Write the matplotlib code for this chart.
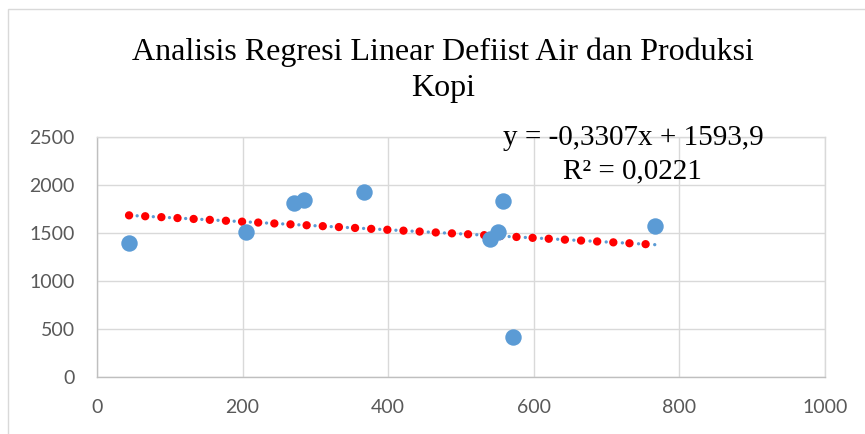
import numpy as np
import matplotlib
matplotlib.use("Agg")
import matplotlib.pyplot as plt
from matplotlib.patches import Rectangle

# data
defisit_air = [44, 205, 271, 284, 367, 540, 551, 558, 572, 767]
produksi_kopi = [1400, 1510, 1812, 1844, 1930, 1440, 1510, 1833, 417, 1570]
equation_text = "y = -0,3307x + 1593,9"
r2_text = "R² = 0,0221"
title = "Analisis Regresi Linear Defiist Air dan Produksi\nKopi"
x_ticks = [0, 200, 400, 600, 800, 1000]
y_ticks = [0, 500, 1000, 1500, 2000, 2500]

fig = plt.figure(figsize=(8.65, 4.34), dpi=100)
ax = fig.add_axes([97 / 865, 1 - 377 / 434, 728 / 865, 240 / 434])

# outer chart frame (cut off on the right and bottom)
fig.patches.append(Rectangle((8 / 865, -0.1), 1.2, 1 - 9 / 434 + 0.1,
                             transform=fig.transFigure, fill=False,
                             edgecolor="#D9D9D9", lw=1.0))

# trendline from least squares fit
slope, icpt = np.polyfit(defisit_air, produksi_kopi, 1)
tx = np.array([min(defisit_air), max(defisit_air)])
ty = slope * tx + icpt
ax.plot(tx, ty, color="#5B9BD5", lw=2.4, linestyle=(0, (0.01, 2.42)),
        dash_capstyle="round", zorder=2)
ax.plot(tx, ty, color="#FF0000", lw=6.0, linestyle=(0, (0.01, 1.93)),
        dash_capstyle="round", zorder=3)

ax.scatter(defisit_air, produksi_kopi, s=140, color="#5B9BD5", zorder=4,
           linewidths=0)

ax.set_xlim(0, 1000)
ax.set_ylim(0, 2500)
ax.set_xticks(x_ticks)
ax.set_yticks(y_ticks)
ax.grid(True, color="#D9D9D9", lw=1.0)
ax.set_axisbelow(True)
for s in ax.spines.values():
    s.set_color("#D9D9D9")
    s.set_linewidth(1.0)
ax.spines["left"].set_color("#BFBFBF")
ax.spines["bottom"].set_color("#BFBFBF")
ax.tick_params(length=0, labelsize=14, labelcolor="#595959", pad=16)
for lab in ax.get_xticklabels() + ax.get_yticklabels():
    lab.set_family("Lato")

fig.text(443 / 865, 1 - 70 / 434, title, ha="center", va="center",
         family="Liberation Serif", fontsize=23, linespacing=1.3)
fig.text(633 / 865, 1 - 145 / 434, equation_text, ha="center", va="baseline",
         family="Liberation Serif", fontsize=21)
fig.text(632 / 865, 1 - 178 / 434, r2_text, ha="center", va="baseline",
         family="Liberation Serif", fontsize=21)

fig.savefig("out.png", dpi=100)
